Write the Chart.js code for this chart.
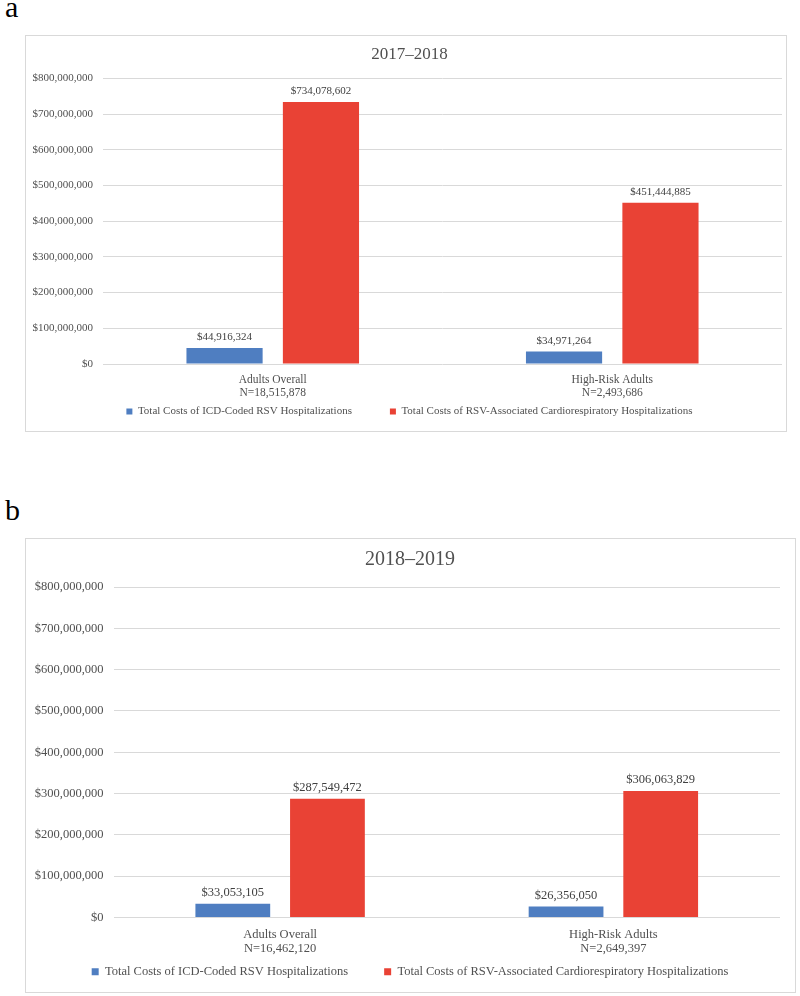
<!DOCTYPE html>
<html><head><meta charset="utf-8">
<script src="https://cdn.jsdelivr.net/npm/chart.js@4/dist/chart.umd.min.js"></script>
<style>
body{margin:0;background:#fff;width:800px;height:996px;position:relative;font-family:"Liberation Serif",serif;}
.lbl{position:absolute;font-size:30px;color:#000;font-family:"Liberation Serif",serif;}
.box{position:absolute;border:1px solid #d9d9d9;box-sizing:border-box;}
</style></head><body>
<div class="lbl" style="left:5px;top:-10px">a</div>
<div class="box" style="left:25px;top:35px;width:762px;height:397px"><canvas id="c1"></canvas></div>
<div class="lbl" style="left:5px;top:493px">b</div>
<div class="box" style="left:25px;top:538px;width:771px;height:455px"><canvas id="c2"></canvas></div>
<script>
const seriesNames = ["Total Costs of ICD-Coded RSV Hospitalizations","Total Costs of RSV-Associated Cardiorespiratory Hospitalizations"];
const categoriesA = [["Adults Overall","N=18,515,878"],["High-Risk Adults","N=2,493,686"]];
const icdA = [44916324, 34971264];
const cardioA = [734078602, 451444885];
const categoriesB = [["Adults Overall","N=16,462,120"],["High-Risk Adults","N=2,649,397"]];
const icdB = [33053105, 26356050];
const cardioB = [287549472, 306063829];
const titles = ["2017–2018","2018–2019"];
const colors = ["#4f7ec1","#e94235"];

const fmt = v => "$" + v.toLocaleString("en-US");
const labelPlugin = {
  id:"barLabels",
  afterDatasetsDraw(chart){
    const ctx = chart.ctx; const fs = chart.options.plugins.barLabels.size;
    ctx.save(); ctx.fillStyle="#404040"; ctx.font = fs+"px 'Liberation Serif'";
    ctx.textAlign="center"; ctx.textBaseline="bottom";
    chart.data.datasets.forEach((ds,i)=>{
      chart.getDatasetMeta(i).data.forEach((bar,j)=>{
        ctx.fillText(fmt(ds.data[j]), bar.x, bar.y-5);
      });
    });
    ctx.restore();
  }
};
const noClip = s => { s._computeLabelArea = () => undefined; };
function make(id, cats, d1, d2, title, o){
  const el = document.getElementById(id);
  new Chart(el, {
    type:"bar",
    data:{labels:cats, datasets:[
      {label:seriesNames[0], data:d1, backgroundColor:colors[0]},
      {label:seriesNames[1], data:d2, backgroundColor:colors[1]}]},
    options:{
      responsive:true, maintainAspectRatio:false, animation:false,
      categoryPercentage:o.cp, barPercentage:o.bp,
      layout:{padding:{left:o.padL,right:o.padR,top:o.padT,bottom:o.padB}},
      plugins:{
        title:{display:true,text:title,color:"#505050",font:{family:"Liberation Serif",size:o.tsize,weight:"normal"},padding:{top:0,bottom:o.tpad}},
        legend:{position:"bottom",labels:{color:"#505050",boxWidth:o.bw,boxHeight:o.bw,padding:o.legPad,font:{family:"Liberation Serif",size:o.lfs}}},
        barLabels:{size:o.fs},
        tooltip:{enabled:false}
      },
      scales:{
        x:{grid:{display:false},border:{display:false},
           ticks:{color:"#505050",padding:o.xpad,font:{family:"Liberation Serif",size:o.xfs,lineHeight:o.xlh}},
           afterFit(s){s.height=o.xh; noClip(s);}},
        y:{min:0,max:800000000,ticks:{stepSize:100000000,color:"#505050",padding:o.ypad,font:{family:"Liberation Serif",size:o.fs},callback:v=>fmt(v)},
           grid:{color:"#d9d9d9",drawTicks:false},border:{display:false},
           afterFit(s){s.width=o.yw; noClip(s);}}
      }
    },
    plugins:[labelPlugin]
  });
}
make("c1", categoriesA, icdA, cardioA, titles[0],
  {cp:0.568,bp:0.79,padL:11,padR:4,padT:8,padB:4,tsize:17,tpad:14,fs:11,xfs:11.5,xlh:1.1,lfs:11,bw:6,legPad:38,xpad:2,xh:4,ypad:10,yw:66});
make("c2", categoriesB, icdB, cardioB, titles[1],
  {cp:0.568,bp:0.79,padL:14,padR:15,padT:9,padB:4,tsize:20,tpad:15,fs:12.5,xfs:12.5,xlh:1.12,lfs:12.5,bw:7,legPad:36,xpad:2.5,xh:12,ypad:10,yw:73.5});
</script>
</body></html>
